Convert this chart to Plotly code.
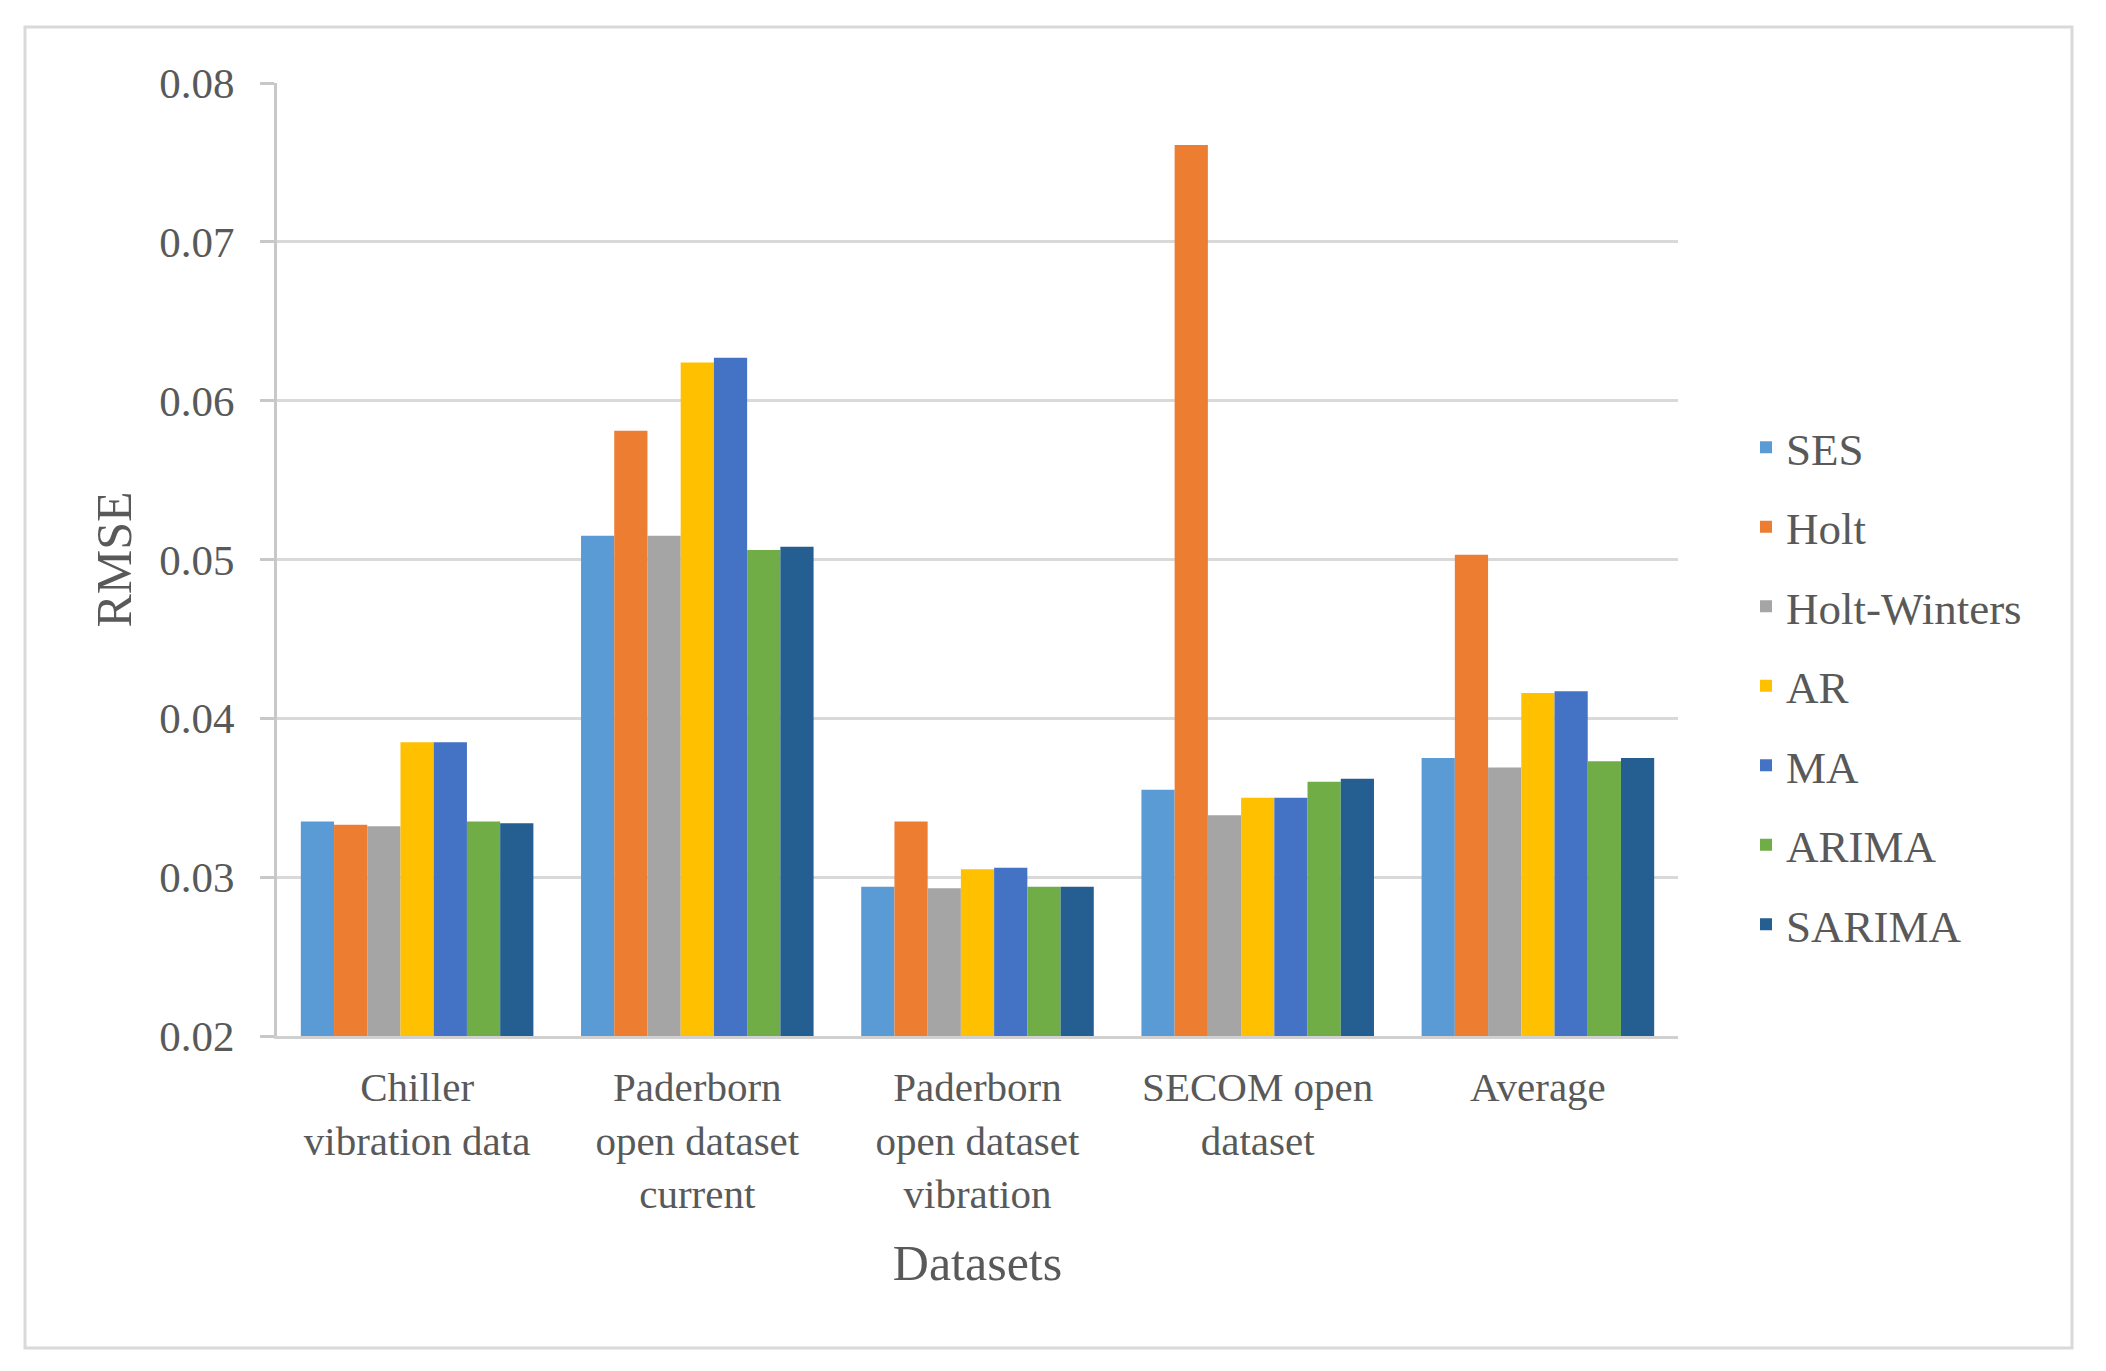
import plotly.graph_objects as go

categories = ["Chiller<br>vibration data", "Paderborn<br>open dataset<br>current",
              "Paderborn<br>open dataset<br>vibration", "SECOM open<br>dataset", "Average"]
series_names = ["SES", "Holt", "Holt-Winters", "AR", "MA", "ARIMA", "SARIMA"]
ses = [0.0335, 0.0515, 0.0294, 0.0355, 0.0375]
holt = [0.0333, 0.0581, 0.0335, 0.0761, 0.0503]
holt_winters = [0.0332, 0.0515, 0.0293, 0.0339, 0.0369]
ar = [0.0385, 0.0624, 0.0305, 0.0350, 0.0416]
ma = [0.0385, 0.0627, 0.0306, 0.0350, 0.0417]
arima = [0.0335, 0.0506, 0.0294, 0.0360, 0.0373]
sarima = [0.0334, 0.0508, 0.0294, 0.0362, 0.0375]
y_ticks = [0.02, 0.03, 0.04, 0.05, 0.06, 0.07, 0.08]

colors = ["#5B9BD5", "#ED7D31", "#A5A5A5", "#FFC000", "#4472C4", "#70AD47", "#255E91"]
values = [ses, holt, holt_winters, ar, ma, arima, sarima]

FONT = "Liberation Serif"
TXT = "#595959"

fig = go.Figure()
for i, (name, vals) in enumerate(zip(series_names, values)):
    fig.add_trace(go.Bar(x=categories, y=vals, name=name,
                         marker=dict(color=colors[i], line=dict(width=0)),
                         legendgroup=name))

# figure is placed inside the page body (8px default margin)
W, H = 2090, 1355
L, R, T, B = 269, W - 1670, 75, H - 1028
pw, ph = W - L - R, H - T - B

def px_x(x):
    return (x - L) / pw

def px_y(y):
    return (H - B - y) / ph

fig.update_layout(
    width=W, height=H,
    margin=dict(l=L, r=R, t=T, b=B),
    paper_bgcolor="white", plot_bgcolor="white",
    barmode="group", bargap=0.17, bargroupgap=0,
    font=dict(family=FONT, size=42, color=TXT),
    xaxis=dict(showgrid=False, showline=True, linecolor="#D0D0D0", linewidth=3,
               ticks="", tickfont=dict(size=41, color=TXT),
               ticklabelstandoff=13,
               title=dict(text="Datasets", font=dict(size=50, color=TXT), standoff=30)),
    yaxis=dict(range=[0.02, 0.08], tickvals=y_ticks, ticktext=[f"{v:.2f}" for v in y_ticks],
               showgrid=True, gridcolor="#D9D9D9", gridwidth=3,
               showline=True, linecolor="#C8C8C8", linewidth=3,
               ticks="outside", ticklen=14, tickwidth=3, tickcolor="#C8C8C8",
               tickfont=dict(size=43, color=TXT), ticklabelstandoff=17,
               zeroline=False,
               title=dict(text="RMSE", font=dict(size=50, color=TXT), standoff=12)),
    legend=dict(x=px_x(1738), y=px_y(678), xanchor="left", yanchor="middle",
                font=dict(size=45, color=TXT), tracegroupgap=18,
                bgcolor="rgba(0,0,0,0)"),
    shapes=[dict(type="rect", xref="paper", yref="paper",
                 x0=px_x(17), x1=px_x(2064), y0=px_y(1340), y1=px_y(19),
                 line=dict(color="#D9D9D9", width=3), layer="below")],
)

fig.write_html("out.html")
